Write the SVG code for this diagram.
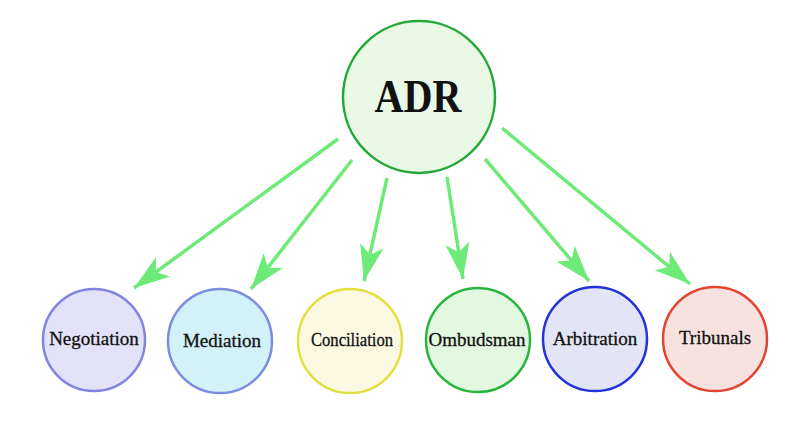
<svg xmlns="http://www.w3.org/2000/svg" width="800" height="430" viewBox="0 0 800 430">
<defs>
<style>
.lbl{font-family:"Liberation Serif","Times New Roman",serif;font-size:19px;fill:#111;stroke:#111;stroke-width:0.3;text-anchor:middle}
.conn{stroke:#6eea78;stroke-width:3.5;fill:none;marker-end:url(#ah)}
.node{stroke-width:2.5}
</style>
<marker id="ah" markerUnits="userSpaceOnUse" markerWidth="38" markerHeight="26" refX="36" refY="12" orient="auto" viewBox="0 0 38 26">
<path d="M0,0 L36,12 L0,24 L9,12 z" fill="#6eea78"/>
</marker>
</defs>
<rect width="800" height="430" fill="#fff"/>
<g id="connectors">
<line class="conn" x1="338" y1="139" x2="134" y2="288"/>
<line class="conn" x1="352" y1="160" x2="251" y2="289"/>
<line class="conn" x1="387" y1="178" x2="364" y2="281"/>
<line class="conn" x1="447" y1="177" x2="463" y2="279"/>
<line class="conn" x1="485" y1="159" x2="589" y2="281"/>
<line class="conn" x1="502" y1="128" x2="690" y2="284"/>
</g>
<g id="adr">
<circle class="node" cx="419" cy="97" r="76" fill="#e9f9e6" stroke="#25a83a"/>
<text x="418" y="112" font-family="Liberation Serif,serif" font-size="46" font-weight="bold" text-anchor="middle" fill="#111" textLength="87" lengthAdjust="spacingAndGlyphs">ADR</text>
</g>
<g id="negotiation">
<circle class="node" cx="94" cy="340" r="51" fill="#e3e2f8" stroke="#8383e0"/>
<text class="lbl" x="94" y="345">Negotiation</text>
</g>
<g id="mediation">
<circle class="node" cx="220" cy="341" r="52" fill="#d3f1f8" stroke="#7a8de0"/>
<text class="lbl" x="222" y="347">Mediation</text>
</g>
<g id="conciliation">
<circle class="node" cx="350" cy="341" r="52" fill="#fbf9e2" stroke="#e2e040"/>
<text class="lbl" x="352" y="346" textLength="82" lengthAdjust="spacingAndGlyphs">Conciliation</text>
</g>
<g id="ombudsman">
<circle class="node" cx="478" cy="340" r="52" fill="#e2f9e0" stroke="#28b43e"/>
<text class="lbl" x="477" y="346">Ombudsman</text>
</g>
<g id="arbitration">
<circle class="node" cx="595" cy="339" r="52" fill="#e2e5f6" stroke="#2333d8"/>
<text class="lbl" x="595" y="345">Arbitration</text>
</g>
<g id="tribunals">
<circle class="node" cx="715" cy="339" r="52" fill="#f8e2e0" stroke="#e3432f"/>
<text class="lbl" x="715" y="344">Tribunals</text>
</g>
</svg>
